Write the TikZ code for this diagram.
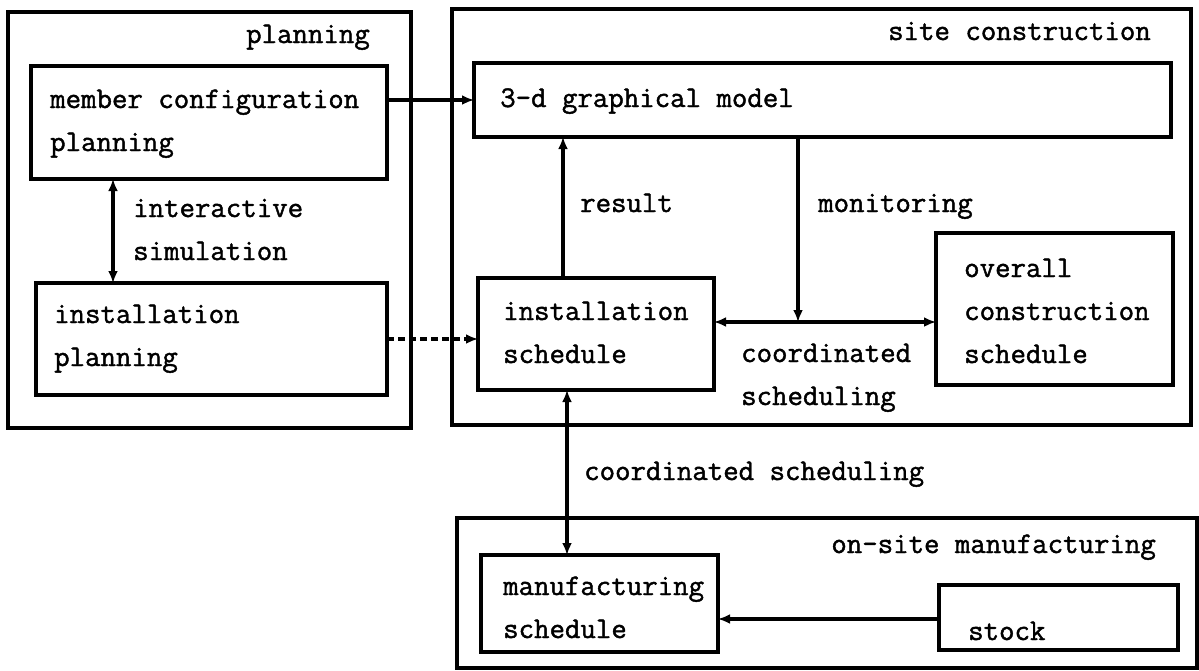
\documentclass[tikz,border=0pt]{standalone}
\usepackage{fontspec}
\setmonofont{Latin Modern Mono}[AutoFakeBold=1.4]
\usetikzlibrary{arrows.meta}
\newcommand\mlines[1]{\vtop{\baselineskip=43pt\lineskiplimit=-100pt\lineskip=0pt #1}}
\tikzset{
  frame/.style={draw, line width=3.3pt, anchor=north west, inner sep=0pt, outer sep=0pt},
  box/.style={draw, line width=3.3pt, anchor=north west, inner sep=0pt, outer sep=0pt},
  lbl/.style={font=\ttfamily\bfseries\fontsize{30}{43}\selectfont, inner sep=0pt},
  conn/.style={line width=3.3pt, -{Latex[length=12pt,width=10pt]}},
  dconn/.style={line width=3.3pt, {Latex[length=12pt,width=10pt]}-{Latex[length=12pt,width=10pt]}},
  dashconn/.style={line width=3.3pt, dash pattern=on 7pt off 4pt, -{Latex[length=12pt,width=10pt]}},
}
\begin{document}
\begin{tikzpicture}[x=1pt,y=-1pt]
\useasboundingbox[fill=white] (0,0) rectangle (1199,670);
% outer frames
\node[frame, minimum width=403pt, minimum height=416pt] (planF) at (8,12) {};
\node[frame, minimum width=739pt, minimum height=416pt] (siteF) at (452,9) {};
\node[frame, minimum width=740pt, minimum height=150pt] (mfgF) at (457,518) {};
% boxes
\node[box, minimum width=356pt, minimum height=113pt] (mc) at (31,66) {};
\node[box, minimum width=351pt, minimum height=112pt] (ip) at (36,283) {};
\node[box, minimum width=697pt, minimum height=74pt] (model) at (474,63) {};
\node[box, minimum width=236pt, minimum height=112pt] (is) at (478,278) {};
\node[box, minimum width=237pt, minimum height=152pt] (oc) at (936,233) {};
\node[box, minimum width=237pt, minimum height=97pt] (ms) at (481,555) {};
\node[box, minimum width=239pt, minimum height=65pt] (stock) at (939,585) {};
% titles
\node[lbl, anchor=base east] (tPlan) at (370,43) {planning};
\node[lbl, anchor=base east] (tSite) at (1151,40) {site construction};
\node[lbl, anchor=base east] (tMfg) at (1156,553) {on-site manufacturing};
% box texts
\node[lbl, anchor=base west] (xmc) at (50,108) {\mlines{\hbox{member configuration}\hbox{planning}}};
\node[lbl, anchor=base west] (xip) at (54,323) {\mlines{\hbox{installation}\hbox{planning}}};
\node[lbl, anchor=base west] (xmodel) at (500,107) {3-d graphical model};
\node[lbl, anchor=base west] (xis) at (503,320) {\mlines{\hbox{installation}\hbox{schedule}}};
\node[lbl, anchor=base west] (xoc) at (964,277) {\mlines{\hbox{overall}\hbox{construction}\hbox{schedule}}};
\node[lbl, anchor=base west] (xms) at (503,595) {\mlines{\hbox{manufacturing}\hbox{schedule}}};
\node[lbl, anchor=base west] (xstock) at (968,640) {stock};
% connector labels
\node[lbl, anchor=base west] (lsim) at (133,217) {\mlines{\hbox{interactive}\hbox{simulation}}};
\node[lbl, anchor=base west] (lres) at (580,212) {result};
\node[lbl, anchor=base west] (lmon) at (818,212) {monitoring};
\node[lbl, anchor=base west] (lcs1) at (741,362) {\mlines{\hbox{coordinated}\hbox{scheduling}}};
\node[lbl, anchor=base west] (lcs2) at (584,480) {coordinated scheduling};
% connectors
\coordinate (cs) at (798,322);
\draw[conn] (mc.east |- model.west) -- (model.west);
\draw[dashconn] (ip.east) -- (ip.east -| is.west);
\draw[dconn] ([xshift=82pt]mc.south west) -- ([xshift=82pt]mc.south west |- ip.north);
\draw[conn] ([xshift=85pt]is.north west) -- ([xshift=85pt]is.north west |- model.south);
\draw[conn] (model.south -| cs) -- (cs);
\draw[conn] (cs) -- (cs -| is.east);
\draw[conn] (cs) -- (cs -| oc.west);
\draw[dconn] ([xshift=89pt]is.south west) -- ([xshift=89pt]is.south west |- ms.north);
\draw[conn] (stock.west |- 0,619) -- (ms.east |- 0,619);
\end{tikzpicture}
\end{document}
